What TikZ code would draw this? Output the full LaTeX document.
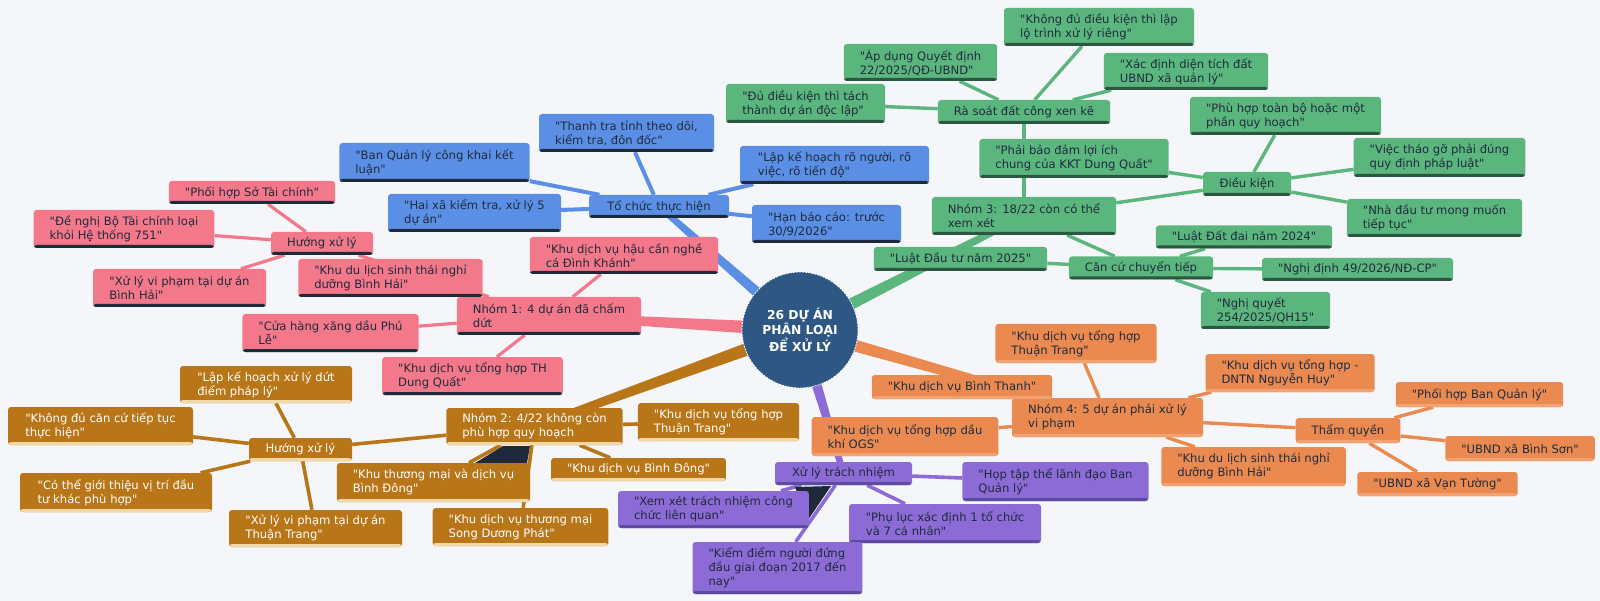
\documentclass[tikz,border=0pt]{standalone}
\usepackage{fontspec}
\setmainfont{DejaVu Sans}
\newfontfamily\dvs{DejaVu Sans}
\usetikzlibrary{calc}
\pgfdeclarelayer{bglayer}
\pgfdeclarelayer{edgelayer}
\pgfsetlayers{bglayer,edgelayer,main}
\definecolor{bgc}{HTML}{F4F6FA}
\definecolor{pkf}{HTML}{F3788A}
\definecolor{darkb}{HTML}{1E2A3A}
\definecolor{blf}{HTML}{5B8FE5}
\definecolor{gnf}{HTML}{5BB67E}
\definecolor{gnb}{HTML}{2B5640}
\definecolor{brf}{HTML}{B87619}
\definecolor{brb}{HTML}{F0D8A8}
\definecolor{orf}{HTML}{EA8A50}
\definecolor{orb}{HTML}{F2A272}
\definecolor{puf}{HTML}{8C6BD6}
\definecolor{pub}{HTML}{5E4AA0}
\definecolor{ctr}{HTML}{2E5883}
\definecolor{txt}{HTML}{1F2B3D}
\newcommand\nfont{\dvs\fontsize{11.6}{14}\selectfont}
\newcommand\brtaper[5]{\fill[#1] ($(#2)!#4!90:(#3)$) -- ($(#3)!#5!-90:(#2)$) -- ($(#3)!#5!90:(#2)$) -- ($(#2)!#4!-90:(#3)$) -- cycle;}
\begin{document}
\begin{tikzpicture}[x=1pt,y=-1pt,
  box/.style n args={3}{rectangle, rounded corners=3pt, fill=#1, text=#3, inner xsep=16pt, inner ysep=3pt, align=left, font=\nfont,
    path picture={\fill[#2] ([yshift=-1pt]path picture bounding box.south west) rectangle ([yshift=3pt]path picture bounding box.south east);}},
  pk/.style={box={pkf}{darkb}{txt}},
  bl/.style={box={blf}{darkb}{txt}},
  gn/.style={box={gnf}{gnb}{txt}},
  br/.style={box={brf}{brb}{white}},
  or/.style={box={orf}{orb}{txt}},
  pu/.style={box={puf}{pub}{txt}},
  sz/.style 2 args={minimum width=#1, minimum height=#2},
  pkl/.style={draw=pkf, line width=3.2pt},
  bll/.style={draw=blf, line width=4pt},
  gnl/.style={draw=gnf, line width=3.4pt},
  brl/.style={draw=brf, line width=3.6pt},
  orl/.style={draw=orf, line width=3.4pt},
  pul/.style={draw=puf, line width=3.6pt},
  artifact/.style={fill=darkb}
]
\useasboundingbox (0,0) rectangle (1600,601);
\begin{pgfonlayer}{bglayer}
\fill[bgc] (0,0) rectangle (1600,601);
\end{pgfonlayer}

% center
\node[circle, fill=ctr, draw=white, line width=0.8pt, dash pattern=on 2pt off 1pt, minimum size=116pt, inner sep=0pt, text=white, align=center, font=\dvs\fontsize{12.3}{14}\selectfont\bfseries] (C) at (800,330) {26 DỰ ÁN\\PHÂN LOẠI\\ĐỂ XỬ LÝ};

% pink
\node[pk, sz={180}{38}] (P1) at (549,316) {Nhóm 1: 4 dự án đã chấm\\dứt};
\node[pk, sz={186}{37}] (P2) at (624,255.5) {"Khu dịch vụ hậu cần nghề\\cá Đình Khánh"};
\node[pk, sz={181}{38}] (P3) at (390.5,278) {"Khu du lịch sinh thái nghỉ\\dưỡng Bình Hải"};
\node[pk, sz={171}{38}] (P4) at (330.5,333) {"Cửa hàng xăng dầu Phú\\Lễ"};
\node[pk, sz={179}{38}] (P5) at (472.5,376) {"Khu dịch vụ tổng hợp TH\\Dung Quất"};
\node[pk, sz={102}{23}] (P6) at (322,243.5) {Hướng xử lý};
\node[pk, sz={164}{23}] (P7) at (252,192.5) {"Phối hợp Sở Tài chính"};
\node[pk, sz={180}{38}] (P8) at (124,229) {"Đề nghị Bộ Tài chính loại\\khỏi Hệ thống 751"};
\node[pk, sz={173}{38}] (P9) at (179.5,288) {"Xử lý vi phạm tại dự án\\Bình Hải"};

% blue
\node[bl, sz={140}{23}] (B1) at (659,206.5) {Tổ chức thực hiện};
\node[bl, sz={175}{38}] (B2) at (626.5,133) {"Thanh tra tỉnh theo dõi,\\kiểm tra, đôn đốc"};
\node[bl, sz={187}{39}] (B3) at (434.5,162.5) {"Ban Quản lý công khai kết\\luận"};
\node[bl, sz={173}{38}] (B4) at (474.5,213) {"Hai xã kiểm tra, xử lý 5\\dự án"};
\node[bl, sz={189}{38}] (B5) at (834.5,165) {"Lập kế hoạch rõ người, rõ\\việc, rõ tiến độ"};
\node[bl, sz={149}{38}] (B6) at (826.5,224) {"Hạn báo cáo: trước\\30/9/2026"};

% green
\node[gn, sz={184}{38}] (G1) at (1024,216) {Nhóm 3: 18/22 còn có thể\\xem xét};
\node[gn, sz={172}{24}] (G2) at (1024,112) {Rà soát đất công xen kẽ};
\node[gn, sz={190}{38}] (G3) at (1099,27) {"Không đủ điều kiện thì lập\\lộ trình xử lý riêng"};
\node[gn, sz={151}{37}] (G4) at (920.5,62.5) {"Áp dụng Quyết định\\22/2025/QĐ-UBND"};
\node[gn, sz={164}{37}] (G5) at (1186,71.5) {"Xác định diện tích đất\\UBND xã quản lý"};
\node[gn, sz={159}{39}] (G6) at (805.5,103.5) {"Đủ điều kiện thì tách\\thành dự án độc lập"};
\node[gn, sz={186}{39}] (G7) at (1074,158.5) {"Phải bảo đảm lợi ích\\chung của KKT Dung Quất"};
\node[gn, sz={88}{24}] (G8) at (1247,184) {Điều kiện};
\node[gn, sz={191}{38}] (G9) at (1285.5,116) {"Phù hợp toàn bộ hoặc một\\phần quy hoạch"};
\node[gn, sz={169}{39}] (G10) at (1439.5,157.5) {"Việc tháo gỡ phải đúng\\quy định pháp luật"};
\node[gn, sz={173}{38}] (G11) at (1434.5,218) {"Nhà đầu tư mong muốn\\tiếp tục"};
\node[gn, sz={144}{23}] (G12) at (1141,268) {Căn cứ chuyển tiếp};
\node[gn, sz={169}{24}] (G13) at (960.5,259) {"Luật Đầu tư năm 2025"};
\node[gn, sz={172}{23}] (G14) at (1244,237) {"Luật Đất đai năm 2024"};
\node[gn, sz={187}{23}] (G15) at (1357.5,269.5) {"Nghị định 49/2026/NĐ-CP"};
\node[gn, sz={127}{37}] (G16) at (1265.5,310.5) {"Nghị quyết\\254/2025/QH15"};

% brown
\node[br, sz={173}{37}] (N1) at (534.5,426.5) {Nhóm 2: 4/22 không còn\\phù hợp quy hoạch};
\node[br, sz={161}{38}] (N2) at (718.5,422) {"Khu dịch vụ tổng hợp\\Thuận Trang"};
\node[br, sz={193}{39}] (N3) at (433.5,482.5) {"Khu thương mại và dịch vụ\\Bình Đông"};
\node[br, sz={169}{23}] (N4) at (638.5,469.5) {"Khu dịch vụ Bình Đông"};
\node[br, sz={175}{38}] (N5) at (520.5,527) {"Khu dịch vụ thương mại\\Song Dương Phát"};
\node[br, sz={103}{23}] (N6) at (300.5,449.5) {Hướng xử lý};
\node[br, sz={172}{37}] (N7) at (266,384.5) {"Lập kế hoạch xử lý dứt\\điểm pháp lý"};
\node[br, sz={185}{38}] (N8) at (100.5,426) {"Không đủ căn cứ tiếp tục\\thực hiện"};
\node[br, sz={192}{39}] (N9) at (116,492.5) {"Có thể giới thiệu vị trí đầu\\tư khác phù hợp"};
\node[br, sz={173}{37}] (N10) at (315.5,528.5) {"Xử lý vi phạm tại dự án\\Thuận Trang"};

% orange
\node[or, sz={191}{39}] (O1) at (1107.5,417.5) {Nhóm 4: 5 dự án phải xử lý\\vi phạm};
\node[or, sz={160}{39}] (O2) at (1076,343.5) {"Khu dịch vụ tổng hợp\\Thuận Trang"};
\node[or, sz={176}{24}] (O3) at (962,387) {"Khu dịch vụ Bình Thanh"};
\node[or, sz={186}{39}] (O4) at (905,436.5) {"Khu dịch vụ tổng hợp dầu\\khí OGS"};
\node[or, sz={168}{38}] (O5) at (1290,373) {"Khu dịch vụ tổng hợp -\\DNTN Nguyễn Huy"};
\node[or, sz={181}{39}] (O6) at (1253.5,466.5) {"Khu du lịch sinh thái nghỉ\\dưỡng Bình Hải"};
\node[or, sz={104}{25}] (O7) at (1348,430.5) {Thẩm quyền};
\node[or, sz={165}{25}] (O8) at (1479.5,394.5) {"Phối hợp Ban Quản lý"};
\node[or, sz={144}{25}] (O9) at (1520,448.5) {"UBND xã Bình Sơn"};
\node[or, sz={155}{24}] (O10) at (1437.5,484) {"UBND xã Vạn Tường"};

% purple
\node[pu, sz={137}{23}] (U1) at (843.5,473.5) {Xử lý trách nhiệm};
\node[pu, sz={185}{39}] (U2) at (1055.5,481.5) {"Họp tập thể lãnh đạo Ban\\Quản lý"};
\node[pu, sz={189}{37}] (U3) at (713.5,509.5) {"Xem xét trách nhiệm công\\chức liên quan"};
\node[pu, sz={192}{39}] (U4) at (945,523.5) {"Phụ lục xác định 1 tổ chức\\và 7 cá nhân"};
\node[pu, sz={169}{52}] (U5) at (777.5,568) {"Kiểm điểm người đứng\\đầu giai đoạn 2017 đến\\nay"};

\begin{pgfonlayer}{edgelayer}
% main branches
\brtaper{blf}{C}{B1}{6pt}{3pt}
\brtaper{pkf}{C}{P1}{7pt}{3.5pt}
\brtaper{brf}{C}{N1}{7pt}{3.5pt}
\brtaper{gnf}{C}{G1}{6.5pt}{3pt}
\brtaper{orf}{C}{O1}{6.5pt}{3pt}
\brtaper{puf}{C}{U1}{6pt}{3pt}
% pink
\draw[pkl] (P1) -- (P2); \draw[pkl] (P1) -- (P3); \draw[pkl] (P1) -- (P4);
\draw[pkl] (P1) -- (P5); \draw[pkl] (P1) -- (P6);
\draw[pkl] (P6) -- (P7); \draw[pkl] (P6) -- (P8); \draw[pkl] (P6) -- (P9);
% blue
\draw[bll] (B1) -- (B2); \draw[bll] (B1) -- (B3); \draw[bll] (B1) -- (B4);
\draw[bll] (B1) -- (B5); \draw[bll] (B1) -- (B6);
% green
\draw[gnl] (G1) -- (G2); \draw[gnl] (G2) -- (G3); \draw[gnl] (G2) -- (G4);
\draw[gnl] (G2) -- (G5); \draw[gnl] (G2) -- (G6);
\draw[gnl] (G1) -- (G8); \draw[gnl] (G8) -- (G7); \draw[gnl] (G8) -- (G9);
\draw[gnl] (G8) -- (G10); \draw[gnl] (G8) -- (G11);
\draw[gnl] (G1) -- (G12); \draw[gnl] (G12) -- (G13); \draw[gnl] (G12) -- (G14);
\draw[gnl] (G12) -- (G15); \draw[gnl] (G12) -- (G16);
% brown
\draw[brl] (N1) -- (N2); \draw[brl] (N1) -- (N3); \draw[brl] (N1) -- (N4);
\draw[brl] (N1) -- (N5); \draw[brl] (N1) -- (N6);
\draw[brl] (N6) -- (N7); \draw[brl] (N6) -- (N8); \draw[brl] (N6) -- (N9); \draw[brl] (N6) -- (N10);
% orange
\draw[orl] (O1) -- (O2); \draw[orl] (O1) -- (O3); \draw[orl] (O1) -- (O4);
\draw[orl] (O1) -- (O5); \draw[orl] (O1) -- (O6); \draw[orl] (O1) -- (O7);
\draw[orl] (O7) -- (O8); \draw[orl] (O7) -- (O9); \draw[orl] (O7) -- (O10);
% purple
\draw[pul] (U1) -- (U2); \draw[pul] (U1) -- (U3); \draw[pul] (U1) -- (U4); \draw[pul] (U1) -- (U5);
% dark fill artifacts
\fill[artifact] (503,446) -- (530,446) -- (527,463) -- (475,463) -- cycle;
\fill[artifact] (795,487) -- (831,486) -- (808,520) -- cycle;
\end{pgfonlayer}
\end{tikzpicture}
\end{document}
